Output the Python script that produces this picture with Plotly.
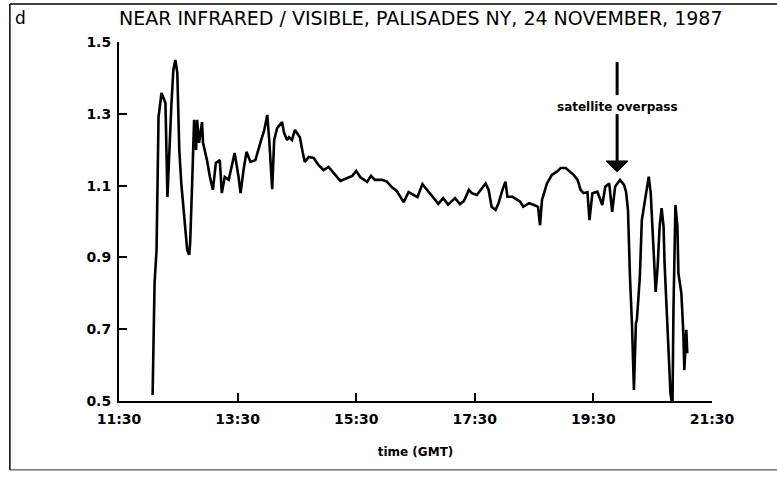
import pandas as pd
import plotly.graph_objects as go

# ---- data ----
time_gmt = [
    "12:04", "12:05", "12:06", "12:08", "12:09", "12:10", "12:13", "12:17", "12:19", "12:22",
    "12:23", "12:25", "12:27", "12:29", "12:31", "12:33", "12:37", "12:39", "12:41", "12:42",
    "12:44", "12:45", "12:46", "12:48", "12:49", "12:51", "12:54", "12:55", "12:59", "13:02",
    "13:05", "13:08", "13:12", "13:14", "13:17", "13:21", "13:24", "13:27", "13:31", "13:33",
    "13:36", "13:39", "13:43", "13:48", "13:53", "13:57", "14:00", "14:02", "14:05", "14:07",
    "14:10", "14:15", "14:17", "14:20", "14:22", "14:25", "14:28", "14:33", "14:36", "14:38",
    "14:42", "14:47", "14:52", "14:57", "15:02", "15:07", "15:14", "15:21", "15:26", "15:30",
    "15:34", "15:41", "15:45", "15:49", "15:56", "16:01", "16:06", "16:11", "16:18", "16:23",
    "16:28", "16:32", "16:37", "16:42", "16:48", "16:53", "16:58", "17:03", "17:10", "17:15",
    "17:19", "17:24", "17:27", "17:32", "17:37", "17:41", "17:44", "17:47", "17:51", "17:54",
    "17:58", "18:01", "18:03", "18:08", "18:13", "18:16", "18:19", "18:25", "18:30", "18:34",
    "18:36", "18:38", "18:43", "18:48", "18:53", "18:57", "19:02", "19:07", "19:10", "19:14",
    "19:17", "19:20", "19:24", "19:26", "19:29", "19:34", "19:39", "19:42", "19:46", "19:49",
    "19:52", "19:57", "20:01", "20:03", "20:05", "20:07", "20:09", "20:11", "20:13", "20:14",
    "20:17", "20:19", "20:23", "20:26", "20:28", "20:31", "20:33", "20:35", "20:37", "20:39",
    "20:41", "20:42", "20:45", "20:48", "20:50", "20:51", "20:53", "20:55", "20:56", "20:59",
    "21:01", "21:02", "21:04", "21:05",
]
nir_vis_ratio = [
    0.517, 0.642, 0.829, 0.921, 1.060, 1.291, 1.358, 1.330, 1.068, 1.291,
    1.325, 1.422, 1.450, 1.414, 1.199, 1.107, 0.985, 0.921, 0.907, 0.940,
    1.107, 1.247, 1.283, 1.199, 1.283, 1.219, 1.277, 1.219, 1.171, 1.124,
    1.088, 1.163, 1.171, 1.079, 1.124, 1.116, 1.152, 1.191, 1.124, 1.079,
    1.143, 1.194, 1.166, 1.171, 1.219, 1.255, 1.297, 1.227, 1.090, 1.227,
    1.260, 1.277, 1.247, 1.227, 1.235, 1.227, 1.255, 1.235, 1.191, 1.166,
    1.180, 1.177, 1.157, 1.143, 1.152, 1.135, 1.113, 1.121, 1.127, 1.141,
    1.124, 1.110, 1.127, 1.116, 1.116, 1.111, 1.096, 1.085, 1.054, 1.082,
    1.074, 1.068, 1.104, 1.088, 1.067, 1.049, 1.065, 1.047, 1.065, 1.048,
    1.057, 1.088, 1.079, 1.074, 1.092, 1.106, 1.088, 1.041, 1.032, 1.051,
    1.088, 1.111, 1.069, 1.069, 1.060, 1.055, 1.041, 1.051, 1.046, 1.041,
    0.990, 1.060, 1.106, 1.130, 1.139, 1.149, 1.149, 1.138, 1.130, 1.116,
    1.088, 1.079, 1.082, 1.004, 1.079, 1.083, 1.046, 1.097, 1.106, 1.027,
    1.097, 1.116, 1.102, 1.083, 1.032, 0.846, 0.716, 0.531, 0.716, 0.726,
    0.846, 1.004, 1.079, 1.125, 1.079, 0.911, 0.804, 0.874, 0.986, 1.037,
    0.986, 0.884, 0.707, 0.521, 0.484, 0.753, 1.046, 0.986, 0.856, 0.800,
    0.689, 0.586, 0.698, 0.633,
]
x_tick_labels = ["11:30", "13:30", "15:30", "17:30", "19:30", "21:30"]
y_tick_values = [0.5, 0.7, 0.9, 1.1, 1.3, 1.5]
overpass_time = "19:54"

DAY = "1987-11-24 "
x = pd.to_datetime([DAY + t for t in time_gmt])
xt = pd.to_datetime([DAY + t for t in x_tick_labels])
xo = pd.Timestamp(DAY + overpass_time)

fig = go.Figure()
fig.add_trace(go.Scatter(
    x=x, y=nir_vis_ratio, mode="lines",
    line=dict(color="black", width=2.6, shape="linear"),
    hoverinfo="skip", showlegend=False,
))

SANS = "DejaVu Sans, Liberation Sans, sans-serif"
tickfont = dict(family=SANS, size=14, color="black", weight="bold")
fig.update_xaxes(
    range=[xt[0], xt[-1]], tickvals=xt, ticktext=x_tick_labels,
    showgrid=False, zeroline=False, showline=True, linecolor="black", linewidth=2,
    ticks="inside", ticklen=8, tickwidth=2, tickcolor="black",
    tickfont=tickfont, automargin=False, ticklabelstandoff=4,
    title=dict(text="time (GMT)", font=dict(family=SANS, size=12, color="black", weight="bold"), standoff=22),
)
fig.update_yaxes(
    range=[0.5, 1.5], tickvals=y_tick_values, ticktext=[f"{v:.1f}" for v in y_tick_values],
    showgrid=False, zeroline=False, showline=True, linecolor="black", linewidth=2,
    ticks="inside", ticklen=8, tickwidth=2, tickcolor="black",
    tickfont=tickfont, ticklabelstandoff=3, automargin=False,
)

# Figure frame (scanned border)
fig.add_shape(type="line", xref="paper", yref="paper", x0=-0.184, x1=1.12, y0=1.106, y1=1.106,
              line=dict(color="black", width=1.5))
fig.add_shape(type="line", xref="paper", yref="paper", x0=-0.184, x1=-0.184, y0=-0.192, y1=1.106,
              line=dict(color="black", width=1.5))
fig.add_shape(type="line", xref="paper", yref="paper", x0=-0.184, x1=1.12, y0=-0.192, y1=-0.192,
              line=dict(color="#555555", width=1.2))

# Satellite overpass arrow
fig.add_shape(type="line", xref="x", yref="y", x0=xo, x1=xo, y0=1.444, y1=1.352,
              line=dict(color="black", width=3))
fig.add_shape(type="line", xref="x", yref="y", x0=xo, x1=xo, y0=1.299, y1=1.160,
              line=dict(color="black", width=3))
fig.add_shape(type="path", xref="x", yref="y", xsizemode="pixel", ysizemode="pixel",
              xanchor=xo, yanchor=1.138, path="M -11,11 L 11,11 L 0,0 Z",
              fillcolor="black", line=dict(color="black", width=1))
fig.add_annotation(x=xo, y=1.319, xref="x", yref="y", text="satellite overpass", showarrow=False,
                   xanchor="center", yanchor="middle",
                   font=dict(family=SANS, size=12, color="black", weight="bold"))

# Titles
fig.add_annotation(x=0.509, y=1.067, xref="paper", yref="paper", xanchor="center", yanchor="middle",
                   text="NEAR INFRARED / VISIBLE, PALISADES NY, 24 NOVEMBER, 1987",
                   showarrow=False, font=dict(family=SANS, size=19, color="black"))
fig.add_annotation(x=-0.166, y=1.067, xref="paper", yref="paper", text="d",
                   xanchor="center", yanchor="middle",
                   showarrow=False, font=dict(family=SANS, size=17, color="black"))

fig.update_layout(
    width=777, height=479,
    margin=dict(l=119, r=65, t=42, b=78),
    paper_bgcolor="white", plot_bgcolor="white",
)
fig.write_html("out.html", config={"displayModeBar": False},
               post_script="document.body.style.margin='0';")
